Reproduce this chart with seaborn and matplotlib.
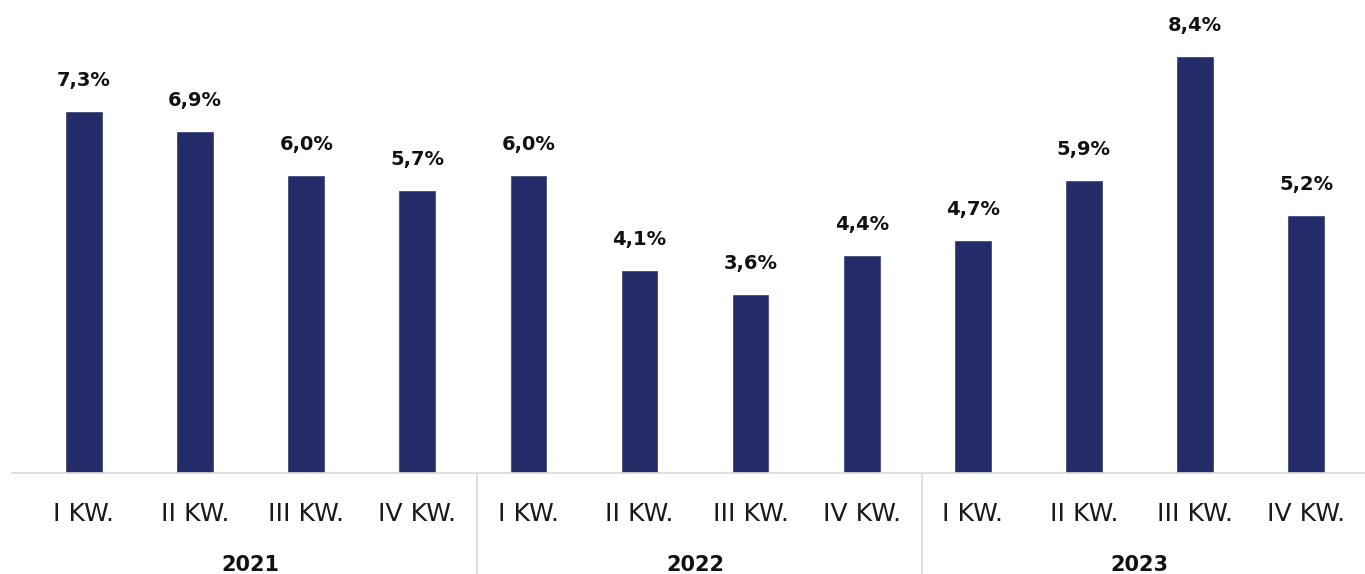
import matplotlib
matplotlib.use("Agg")
import matplotlib.pyplot as plt
import matplotlib.transforms as mtransforms
import seaborn as sns
import pandas as pd

years = ["2021", "2022", "2023"]
quarters = ["I KW.", "II KW.", "III KW.", "IV KW."]
values = [7.3, 6.9, 6.0, 5.7, 6.0, 4.1, 3.6, 4.4, 4.7, 5.9, 8.4, 5.2]

keys = [f"{y} {q}" for y in years for q in quarters]
df = pd.DataFrame({"key": keys, "value": values})

sns.set_theme(style="white")
plt.rcParams["font.family"] = ["DejaVu Sans"]

BAR = "#242d69"
GRID = "#d9d9d9"

fig = plt.figure(figsize=(13.65, 5.74), dpi=100)
ax = fig.add_axes([12 / 1365, 101 / 574, 1353 / 1365, 473 / 574])

sns.barplot(data=df, x="key", y="value", order=keys, color=BAR,
            width=0.34, saturation=1, ax=ax)

ax.set_xlim(-0.648, 11.53)
ax.set_ylim(0, 9.53)
for s in ["top", "right", "left"]:
    ax.spines[s].set_visible(False)
ax.spines["bottom"].set_color(GRID)
ax.spines["bottom"].set_linewidth(1.2)
ax.set_yticks([])
ax.set_xlabel("")
ax.set_ylabel("")
ax.set_xticks(range(len(keys)))
ax.set_xticklabels(quarters * len(years), fontsize=18, color="#1a1a1a")
ax.tick_params(axis="x", length=0, pad=21)

for p, v in zip(ax.patches, values):
    ax.annotate(f"{v:.1f}%".replace(".", ","),
                (p.get_x() + p.get_width() / 2, p.get_height()),
                xytext=(0, 25), textcoords="offset pixels",
                ha="center", va="baseline", fontsize=14, fontweight="bold",
                color="#111111")

trans = mtransforms.blended_transform_factory(ax.transData, ax.transAxes)
nq = len(quarters)
for i in range(1, len(years)):
    ax.axvline(i * nq - 0.46, ymin=-0.2135, ymax=0, color=GRID, lw=1.2, clip_on=False)
for i, y in enumerate(years):
    ax.text(i * nq + (nq - 1) / 2, -0.1945, y, transform=trans, ha="center",
            va="center", fontsize=15, fontweight="bold", color="#111111")

fig.savefig("out.png", dpi=100)
